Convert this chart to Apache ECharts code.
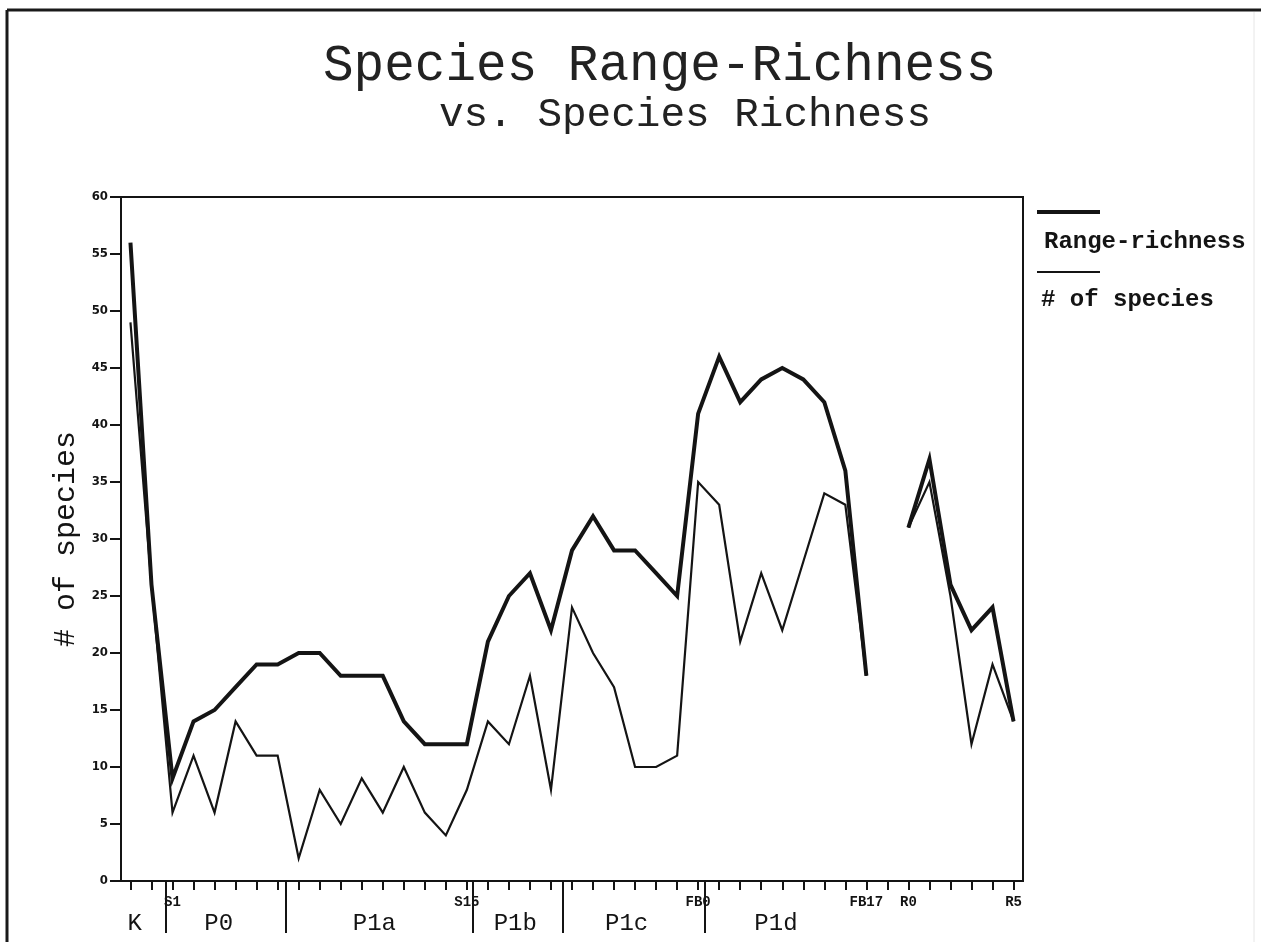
<!DOCTYPE html>
<html>
<head>
<meta charset="utf-8">
<script src="https://cdn.jsdelivr.net/npm/echarts@6/dist/echarts.min.js"></script>
<style>
  html, body { margin: 0; padding: 0; background: #ffffff; }
  #chart { width: 1261px; height: 942px; }
</style>
</head>
<body>
<div id="chart"></div>
<script>
// ---- data (sample index 0..42) ----
const sampleLabels = ['', '', 'S1', '', '', '', '', '', '', '', '', '', '', '', '', '', 'S15', '', '', '', '',
  '', '', '', '', '', '', 'FB0', '', '', '', '', '', '', '', 'FB17', '', 'R0', '', '', '', '', 'R5'];
const rangeRichness = [56, 26, 9, 14, 15, 17, 19, 19, 20, 20, 18, 18, 18, 14, 12, 12, 12, 21, 25, 27, 22,
  29, 32, 29, 29, 27, 25, 41, 46, 42, 44, 45, 44, 42, 36, 18, null, 31, 37, 26, 22, 24, 14];
const speciesCount = [49, 26, 6, 11, 6, 14, 11, 11, 2, 8, 5, 9, 6, 10, 6, 4, 8, 14, 12, 18, 8,
  24, 20, 17, 10, 10, 11, 35, 33, 21, 27, 22, 28, 34, 33, 18, null, 31, 35, 25, 12, 19, 14];
const yTicks = [0, 5, 10, 15, 20, 25, 30, 35, 40, 45, 50, 55, 60];
// stratigraphic zones (in sample-index units on the x scale)
const zoneNames = ['K', 'P0', 'P1a', 'P1b', 'P1c', 'P1d'];
const zoneLabelAt = [0.2, 4.2, 11.6, 18.3, 23.6, 30.7];
const zoneBounds = [1.67, 7.38, 16.27, 20.55, 27.33];
const seriesNames = ['Range-richness', '# of species'];

const ink = '#141414';
const mono = "'Liberation Mono', 'Courier New', monospace";
const narrow = "'Liberation Sans Narrow', 'DejaVu Sans Condensed', 'Liberation Sans', sans-serif";

const tickIdx = sampleLabels.map((_, i) => i);
const labelIdx = tickIdx.filter(i => sampleLabels[i] !== '');

const chart = echarts.init(document.getElementById('chart'), null, { renderer: 'canvas' });

const option = {
  backgroundColor: '#ffffff',
  animation: false,
  title: [
    { text: 'Species Range-Richness', left: 318, top: 36,
      textStyle: { fontFamily: mono, fontSize: 51, fontWeight: 'normal', color: '#222' } },
    { text: 'vs. Species Richness', left: 434, top: 90,
      textStyle: { fontFamily: mono, fontSize: 41, fontWeight: 'normal', color: '#222' } }
  ],
  grid: { left: 121, right: 238, top: 197, bottom: 61, show: true, borderColor: ink, borderWidth: 2,
    backgroundColor: 'transparent' },
  xAxis: [
    {
      type: 'value', min: -0.45, max: 42.45, position: 'bottom',
      axisLine: { show: true, onZero: false, lineStyle: { color: ink, width: 2 } },
      axisTick: { show: true, customValues: tickIdx, length: 9, lineStyle: { color: ink, width: 2 } },
      axisLabel: { show: true, customValues: labelIdx, margin: 14,
        formatter: v => sampleLabels[Math.round(v)] || '',
        fontFamily: mono, fontSize: 14, fontWeight: 'bold', color: ink },
      splitLine: { show: false }
    },
    {
      type: 'value', min: -0.45, max: 42.45, position: 'bottom', offset: 0,
      axisLine: { show: false, onZero: false },
      axisTick: { show: true, customValues: zoneBounds, length: 52, lineStyle: { color: ink, width: 2 } },
      axisLabel: { show: true, customValues: zoneLabelAt, margin: 31,
        formatter: v => { const k = zoneLabelAt.findIndex(a => Math.abs(a - v) < 1e-6); return k >= 0 ? zoneNames[k] : ''; },
        fontFamily: mono, fontSize: 24, color: ink },
      splitLine: { show: false }
    }
  ],
  yAxis: {
    type: 'value', min: 0, max: 60, interval: 5,
    name: '# of species', nameLocation: 'middle', nameGap: 38, nameRotate: 90,
    nameTextStyle: { fontFamily: mono, fontSize: 30, color: ink },
    axisLine: { show: true, onZero: false, lineStyle: { color: ink, width: 2 } },
    axisTick: { show: true, length: 11, lineStyle: { color: ink, width: 2 } },
    axisLabel: { margin: 13, fontFamily: narrow, fontSize: 13, fontWeight: 'bold', color: ink,
      formatter: v => (yTicks.indexOf(v) >= 0 ? String(v) : '') },
    splitLine: { show: false }
  },
  series: [
    {
      name: seriesNames[0], type: 'line', xAxisIndex: 0,
      data: rangeRichness.map((v, i) => [i, v]),
      symbol: 'none', connectNulls: false,
      lineStyle: { color: ink, width: 4, join: 'miter' }, z: 3
    },
    {
      name: seriesNames[1], type: 'line', xAxisIndex: 0,
      data: speciesCount.map((v, i) => [i, v]),
      symbol: 'none', connectNulls: false,
      lineStyle: { color: ink, width: 2.2, join: 'miter' }, z: 2
    }
  ],
  graphic: [
    // page frame
    { type: 'line', shape: { x1: 7, y1: 10, x2: 1261, y2: 10 }, style: { stroke: '#1a1a1a', lineWidth: 3 } },
    { type: 'line', shape: { x1: 7, y1: 10, x2: 7, y2: 942 }, style: { stroke: '#1a1a1a', lineWidth: 3 } },
    { type: 'line', shape: { x1: 1254, y1: 12, x2: 1254, y2: 942 }, style: { stroke: '#e6e6e6', lineWidth: 1 } },
    // legend
    { type: 'line', shape: { x1: 1037, y1: 212, x2: 1100, y2: 212 }, style: { stroke: ink, lineWidth: 4 } },
    { type: 'text', x: 1044, y: 242, style: { text: seriesNames[0], fontFamily: mono, fontSize: 24, fontWeight: 'bold',
      fill: ink, verticalAlign: 'middle', align: 'left' } },
    { type: 'line', shape: { x1: 1037, y1: 272, x2: 1100, y2: 272 }, style: { stroke: ink, lineWidth: 2 } },
    { type: 'text', x: 1041, y: 300, style: { text: seriesNames[1], fontFamily: mono, fontSize: 24, fontWeight: 'bold',
      fill: ink, verticalAlign: 'middle', align: 'left' } }
  ]
};

chart.setOption(option);
</script>
</body>
</html>
